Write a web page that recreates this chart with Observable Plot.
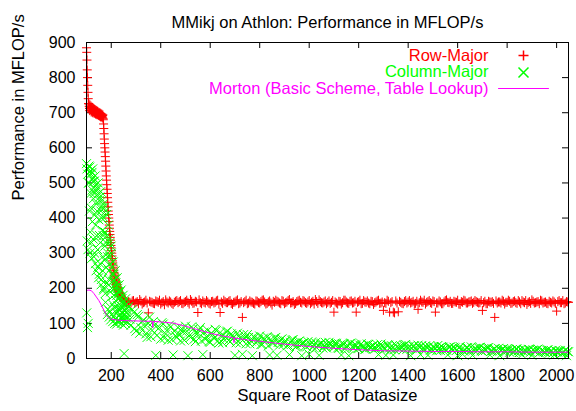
<!DOCTYPE html>
<html><head><meta charset="utf-8">
<script src="https://cdn.jsdelivr.net/npm/d3@7"></script>
<script src="https://cdn.jsdelivr.net/npm/@observablehq/plot@0.6"></script>
<style>
html,body{margin:0;padding:0;background:#fff;}
svg{display:block;}
</style></head><body>
<div id="chart"></div>
<script>
const title = "MMikj on Athlon: Performance in MFLOP/s";
const xLabel = "Square Root of Datasize";
const yLabel = "Performance in MFLOP/s";
const seriesNames = ["Row-Major", "Column-Major", "Morton (Basic Scheme, Table Lookup)"];
const seriesColors = ["#ff0000", "#00ff00", "#ff00ff"];
const xTicks = [200, 400, 600, 800, 1000, 1200, 1400, 1600, 1800, 2000];
const yTicks = [0, 100, 200, 300, 400, 500, 600, 700, 800, 900];

// square root of datasize (shared by Row-Major and Column-Major), first set
const sizes = [
  100,101,102,103,104,105,106,107,108,
  110,112,114,116,118,120,122,124,126,128,
  130,132,134,136,138,140,142,144,146,148,
  150,152,154,156,158,160,162,164,166,168,
  170,172,174,176,178,180,182,184,186,188,
  190,192,194,196,198,200,202,204,206,208,
  210,212,214,216,218,220,222,224,226,228,
  230,232,234,236,238,240,242,244,246,248,
  250,252,254,256,258,260,262,264,
  270,280,290,300,310,320,330,340,350,360,
  370,380,390,400,410,420,430,440,450,460,
  470,480,490,500,510,520,530,540,550,560,
  570,580,590,600,610,620,630,640,650,660,
  670,680,690,700,710,720,730,740,750,760,
  770,780,790,800,810,820,830,840,850,860,
  870,880,890,900,910,920,930,940,950,960,
  970,980,990,1000,1010,1020,1030,1040,1050,1060,
  1070,1080,1090,1100,1110,1120,1130,1140,1150,1160,
  1170,1180,1190,1200,1210,1220,1230,1240,1250,1260,
  1270,1280,1290,1300,1310,1320,1330,1340,1350,1360,
  1370,1380,1390,1400,1410,1420,1430,1440,1450,1460,
  1470,1480,1490,1500,1510,1520,1530,1540,1550,1560,
  1570,1580,1590,1600,1610,1620,1630,1640,1650,1660,
  1670,1680,1690,1700,1710,1720,1730,1740,1750,1760,
  1770,1780,1790,1800,1810,1820,1830,1840,1850,1860,
  1870,1880,1890,1900,1910,1920,1930,1940,1950,1960,
  1970,1980,1990,2000,2010,2020,2030,2040,2048
];

const rowMajor = [
  885,872,850,822,800,778,758,740,726,
  725,712,722,708,719,705,716,704,713,702,
  711,700,709,698,707,696,705,695,703,693,
  701,692,700,690,698,689,696,688,694,680,
  655,625,600,575,548,520,495,470,445,420,
  400,380,362,345,330,315,300,285,272,260,
  250,241,233,226,220,214,209,204,200,196,
  192,188,185,182,179,176,174,172,170,168,
  167,165,164,163,162,161,160,161,
  162,158,165,160,156,163,159,166,130,161,
  157,164,160,155,162,167,158,161,154,163,
  159,165,156,162,160,168,157,163,131,159,
  164,158,161,155,163,160,166,131,157,162,
  159,165,154,161,167,158,117,162,156,164,
  160,155,163,158,166,161,157,164,152,160,
  163,158,165,156,161,168,159,154,162,166,
  158,163,157,165,160,155,162,167,159,161,
  156,164,160,132,158,163,155,166,161,157,
  164,159,132,162,156,165,160,158,163,154,
  161,166,158,137,157,163,159,132,164,133,
  160,156,165,161,158,163,157,140,166,160,
  155,162,159,164,132,158,161,156,165,160,
  163,157,161,166,154,160,164,158,162,157,
  165,160,159,137,163,156,161,162,117,158,
  161,166,155,160,163,158,164,157,161,165,
  159,154,162,167,158,161,156,164,160,157,
  163,158,161,135,165,159,156,162,160
];

const columnMajor = [
  555,130,540,335,88,525,310,100,500,
  548,420,300,535,470,330,530,390,515,455,
  290,505,410,270,495,440,350,485,260,470,
  395,240,460,330,420,225,450,365,290,440,
  200,400,320,185,420,260,350,125,300,380,
  225,118,330,270,110,300,200,240,105,275,
  180,225,100,250,165,205,98,230,150,190,
  122,210,140,175,115,195,132,160,112,180,
  125,14,150,108,170,120,140,103,
  148,95,130,78,120,88,110,70,100,62,
  105,9,85,55,98,70,52,90,10,65,
  88,50,75,92,8,60,84,48,72,88,
  11,55,80,46,68,83,50,74,45,62,
  78,47,66,9,72,44,12,58,68,42,
  8,60,48,64,40,55,62,10,45,58,
  9,38,56,48,36,11,52,42,35,50,
  8,45,33,12,47,38,31,9,44,36,
  30,46,40,32,43,29,10,41,35,8,
  44,30,38,28,42,34,27,40,31,37,
  29,11,41,33,9,38,26,10,39,31,
  36,25,40,30,8,35,27,38,11,29,
  36,9,24,34,28,37,23,32,26,10,
  33,22,30,8,34,12,25,31,21,9,
  29,23,32,20,27,30,10,22,28,19,
  8,26,21,28,18,25,22,27,17,11,
  24,19,26,9,21,25,16,23,19,24,
  15,22,10,18,23,14,20,8,19
];

// second set of measured sizes (in between the first set)
const sizesB = [
  111,113,115,117,119,121,123,125,127,129,
  131,133,135,137,139,141,143,145,147,149,
  151,153,155,157,159,161,163,165,167,169,
  171,173,175,177,179,181,183,185,187,189,
  191,193,195,197,199,201,203,205,207,209,
  211,213,215,217,219,221,223,225,227,229,
  231,233,235,237,239,241,243,245,247,249,
  251,253,255,257,259,261,263,
  275,285,295,305,315,325,335,345,355,365,
  375,385,395,405,415,425,435,445,455,465,
  475,485,495,505,515,525,535,545,555,565,
  575,585,595,605,615,625,635,645,655,665,
  675,685,695,705,715,725,735,745,755,765,
  775,785,795,805,815,825,835,845,855,865,
  875,885,895,905,915,925,935,945,955,965,
  975,985,995,1005,1015,1025,1035,1045,1055,1065,
  1075,1085,1095,1105,1115,1125,1135,1145,1155,1165,
  1175,1185,1195,1205,1215,1225,1235,1245,1255,1265,
  1275,1285,1295,1305,1315,1325,1335,1345,1355,1365,
  1375,1385,1395,1405,1415,1425,1435,1445,1455,1465,
  1475,1485,1495,1505,1515,1525,1535,1545,1555,1565,
  1575,1585,1595,1605,1615,1625,1635,1645,1655,1665,
  1675,1685,1695,1705,1715,1725,1735,1745,1755,1765,
  1775,1785,1795,1805,1815,1825,1835,1845,1855,1865,
  1875,1885,1895,1905,1915,1925,1935,1945,1955,1965,
  1975,1985,1995,2005,2015,2025,2035,2045
];

const rowMajorB = [
  718,706,715,710,702,714,707,700,711,704,
  698,709,702,696,706,700,694,704,697,693,
  699,691,697,688,695,690,686,692,684,668,
  640,612,588,562,534,508,482,458,432,410,
  390,371,353,337,322,307,292,278,266,255,
  245,237,229,223,217,211,206,202,198,194,
  190,186,183,180,177,175,173,171,169,167,
  166,164,163,162,161,160,159,
  160,164,157,162,168,155,161,158,163,160,
  156,162,166,159,153,161,164,157,160,165,
  162,157,160,166,155,163,158,161,167,156,
  160,165,157,162,158,164,155,161,166,159,
  163,157,160,164,156,162,159,166,158,161,
  157,164,159,162,167,155,161,158,163,166,
  161,156,163,159,165,158,162,157,164,160,
  165,159,161,156,163,168,157,162,158,164,
  160,157,165,161,155,162,159,166,158,163,
  158,163,160,166,157,161,164,156,162,159,
  164,157,161,159,166,132,162,130,158,163,
  157,162,158,165,160,155,163,159,161,166,
  160,165,157,162,158,164,156,161,167,159,
  157,163,160,155,162,166,158,161,164,160,
  162,158,165,159,156,163,160,157,164,161,
  158,163,160,166,157,162,159,165,156,161,
  165,160,157,163,159,162,166,158,161,156,
  160,164,157,162,159,165,158,161
];

const columnMajorB = [
  500,545,360,430,525,285,480,540,340,505,
  470,300,520,380,250,480,420,310,500,230,
  450,350,270,475,210,400,430,250,350,195,
  430,280,360,160,330,410,215,290,140,340,
  250,135,290,190,320,125,260,155,220,120,
  240,145,200,112,215,130,180,105,200,140,
  170,108,190,125,150,100,170,118,145,95,
  160,110,135,100,155,115,130,
  112,140,85,125,72,105,92,60,118,80,
  95,66,88,102,58,80,95,54,78,60,
  70,85,52,78,64,90,55,70,82,50,
  75,62,48,72,58,80,44,66,55,76,
  52,70,60,45,64,55,68,42,60,50,
  62,45,55,40,58,50,36,54,44,60,
  46,53,40,50,38,46,54,33,47,40,
  44,36,48,40,32,45,38,42,30,46,
  38,42,34,44,30,39,41,28,37,43,
  33,40,29,38,35,26,41,32,36,28,
  39,31,35,27,38,30,36,25,34,29,
  33,38,26,35,29,36,24,32,37,27,
  31,35,25,33,22,30,34,27,24,32,
  28,32,23,30,26,21,31,27,33,24,
  27,30,22,28,25,31,21,26,23,29,
  24,28,20,26,23,17,27,22,25,20,
  23,26,18,24,21,27,20,22,17,25,
  21,16,23,19,22,17,24,20
];

const mortonSizes = [
  100,110,120,130,140,150,160,170,180,190,
  200,220,250,300,350,366,368,370,400,450,
  500,550,600,650,694,696,698,700,750,800,
  850,900,1000,1100,1200,1300,1400,1500,1600,1700,
  1800,1900,2000,2048
];
const morton = [
  194,195,193,185,175,165,152,138,125,116,
  112,110,108,107,106,106,88,106,104,101,
  92,82,72,64,59,45,59,58,53,49,
  45,41,34,29,25,22,21,20,20,19,
  19,18,18,18
];

const rowData = sizes.map((s, i) => ({size: s, mflops: rowMajor[i]}))
  .concat(sizesB.map((s, i) => ({size: s, mflops: rowMajorB[i]})));
const colData = sizes.map((s, i) => ({size: s, mflops: columnMajor[i]}))
  .concat(sizesB.map((s, i) => ({size: s, mflops: columnMajorB[i]})));
const mortonData = mortonSizes.map((s, i) => ({size: s, mflops: morton[i]}));

const font = "'Liberation Sans', Arial, Helvetica, sans-serif";
const plusSym = {draw(ctx, size) { const r = Math.sqrt(size / Math.PI); ctx.moveTo(-r, 0); ctx.lineTo(r, 0); ctx.moveTo(0, -r); ctx.lineTo(0, r); }};
const timesSym = {draw(ctx, size) { const r = Math.sqrt(size / Math.PI); ctx.moveTo(-r, -r); ctx.lineTo(r, r); ctx.moveTo(-r, r); ctx.lineTo(r, -r); }};
const lineShape = {draw(ctx, l) { ctx.moveTo(0, 0); ctx.lineTo(0, -l); }};

const chart = Plot.plot({
  width: 576, height: 411,
  marginLeft: 86, marginRight: 8, marginTop: 42, marginBottom: 53,
  style: {fontFamily: font, fontSize: "16px", color: "black", background: "white", overflow: "visible"},
  x: {domain: [100, 2048]},
  y: {domain: [0, 900]},
  marks: [
    Plot.axisX(xTicks, {tickSize: 0, tickPadding: 11, tickFormat: d3.format("d"), label: null, fontSize: 16}),
    Plot.axisY(yTicks, {tickSize: 0, tickPadding: 11, label: null, fontSize: 16}),
    Plot.tickX(xTicks, {x: d => d, insetTop: 310, stroke: "black"}),
    Plot.tickX(xTicks, {x: d => d, insetBottom: 310, stroke: "black"}),
    Plot.tickY(yTicks, {y: d => d, insetRight: 476, stroke: "black"}),
    Plot.tickY(yTicks, {y: d => d, insetLeft: 476, stroke: "black"}),
    Plot.dot(rowData, {x: "size", y: "mflops", symbol: plusSym, r: 4.5, stroke: seriesColors[0], fill: "none", strokeWidth: 1}),
    Plot.dot(colData, {x: "size", y: "mflops", symbol: timesSym, r: 4.5, stroke: seriesColors[1], fill: "none", strokeWidth: 1}),
    Plot.line(mortonData, {x: "size", y: "mflops", stroke: seriesColors[2], strokeWidth: 1}),
    Plot.frame({stroke: "black"}),
    // legend
    Plot.text([seriesNames[0]], {frameAnchor: "top-right", dx: -80, dy: 13, textAnchor: "end", lineAnchor: "middle", fill: seriesColors[0], fontSize: 16.5}),
    Plot.text([seriesNames[1]], {frameAnchor: "top-right", dx: -80, dy: 29.5, textAnchor: "end", lineAnchor: "middle", fill: seriesColors[1], fontSize: 16.5}),
    Plot.text([seriesNames[2]], {frameAnchor: "top-right", dx: -80, dy: 46, textAnchor: "end", lineAnchor: "middle", fill: seriesColors[2], fontSize: 16.5}),
    Plot.dot([seriesNames[0]], {frameAnchor: "top-right", dx: -45, dy: 13, symbol: plusSym, r: 5, stroke: seriesColors[0], fill: "none"}),
    Plot.dot([seriesNames[1]], {frameAnchor: "top-right", dx: -45, dy: 30, symbol: timesSym, r: 5, stroke: seriesColors[1], fill: "none"}),
    Plot.vector([seriesNames[2]], {frameAnchor: "top-right", dx: -20, dy: 46, length: 50, rotate: 90, anchor: "end", shape: lineShape, stroke: seriesColors[2], strokeWidth: 1}),
    // titles
    Plot.text([title], {frameAnchor: "top", dy: -26, fontSize: 16.5}),
    Plot.text([xLabel], {frameAnchor: "bottom", dy: 42, fontSize: 16.5}),
    Plot.text([yLabel], {frameAnchor: "left", dx: -68, rotate: -90, fontSize: 16.5})
  ]
});
document.getElementById("chart").appendChild(chart);
</script>
</body></html>
